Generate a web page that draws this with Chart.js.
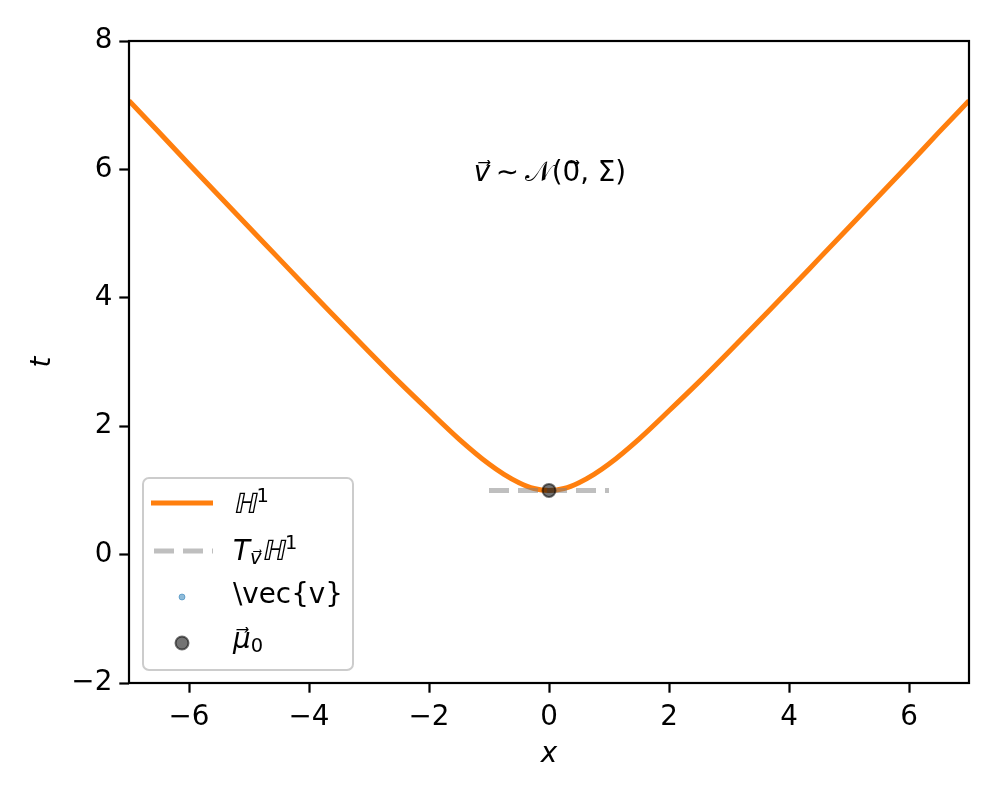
<!DOCTYPE html>
<html>
<head>
<meta charset="utf-8">
<script src="https://cdn.jsdelivr.net/npm/chart.js@4"></script>
<style>
  html, body { margin: 0; padding: 0; background: #fff; }
  #wrap { width: 1000px; height: 800px; }
</style>
</head>
<body>
<div id="wrap"><canvas id="c" width="1000" height="800"></canvas></div>
<script>
// ---- data ----
const curveX = [-7, -6.5, -6, -5.5, -5, -4.5, -4, -3.5, -3, -2.5, -2, -1.5, -1, -0.75, -0.5, -0.25, 0, 0.25, 0.5, 0.75, 1, 1.5, 2, 2.5, 3, 3.5, 4, 4.5, 5, 5.5, 6, 6.5, 7];
const curveT = [7.07, 6.58, 6.08, 5.59, 5.10, 4.61, 4.12, 3.64, 3.16, 2.69, 2.24, 1.80, 1.41, 1.25, 1.12, 1.03, 1.00, 1.03, 1.12, 1.25, 1.41, 1.80, 2.24, 2.69, 3.16, 3.64, 4.12, 4.61, 5.10, 5.59, 6.08, 6.58, 7.07];
const tangentX = [-1, 1];
const tangentT = [1, 1];
const vSamplesX = [];
const vSamplesT = [];
const mu0X = [0];
const mu0T = [1];
const xTicks = [-6, -4, -2, 0, 2, 4, 6];
const yTicks = [-2, 0, 2, 4, 6, 8];
const annotX = 0;
const annotT = 6;

const FS = 27.78;
const FAM = '"DejaVu Sans", sans-serif';
const ORANGE = '#ff7f0e';
const TAN_COL = 'rgba(128,128,128,0.5)';
const V_COL = 'rgba(31,119,180,0.5)';
const MU_COL = 'rgba(0,0,0,0.55)';

const zip = (xs, ys) => xs.map((x, i) => ({ x: x, y: ys[i] }));

function drawRich(ctx, segs, x, baseY, size, align) {
  const fontOf = s => (s.it ? 'italic ' : '') + ((s.sup || s.sub) ? size * 0.7 : size) + 'px ' + FAM;
  let total = 0;
  segs.forEach(s => { ctx.font = fontOf(s); total += ctx.measureText(s.t).width; });
  let cx = align === 'center' ? x - total / 2 : x;
  ctx.textAlign = 'left';
  ctx.textBaseline = 'alphabetic';
  segs.forEach(s => {
    ctx.font = fontOf(s);
    const dy = s.sup ? -size * 0.4 : (s.sub ? size * 0.15 : 0);
    if (s.skew) {
      ctx.save();
      ctx.translate(cx, baseY + dy);
      ctx.transform(1, 0, -0.2, 1, 0, 0);
      ctx.fillText(s.t, 0, 0);
      ctx.restore();
    } else {
      ctx.fillText(s.t, cx, baseY + dy);
    }
    cx += ctx.measureText(s.t).width;
  });
}

const legendLabels = [
  [{ t: 'ℍ', skew: true }, { t: '1', sup: true }],
  [{ t: 'T', it: true }, { t: 'v⃗', it: true, sub: true }, { t: 'ℍ', skew: true }, { t: '1', sup: true }],
  [{ t: '\\vec{v}' }],
  [{ t: 'μ⃗', it: true }, { t: '0', sub: true }]
];
const annotSegs = [{ t: 'v⃗', it: true }, { t: '\u2009∼\u2009' }, { t: '𝒩' }, { t: '(0⃗, Σ)' }];

const overlay = {
  id: 'overlay',
  afterDatasetsDraw(chart) {
    const { ctx, chartArea: a, scales } = chart;
    ctx.save();
    // annotation
    ctx.fillStyle = '#000';
    drawRich(ctx, annotSegs, scales.x.getPixelForValue(annotX) + 1, scales.y.getPixelForValue(annotT) + 12, FS, 'center');

    // legend box
    const bx = 143, by = 478, bw = 210, bh = 192, r = 6;
    ctx.beginPath();
    ctx.moveTo(bx + r, by);
    ctx.arcTo(bx + bw, by, bx + bw, by + bh, r);
    ctx.arcTo(bx + bw, by + bh, bx, by + bh, r);
    ctx.arcTo(bx, by + bh, bx, by, r);
    ctx.arcTo(bx, by, bx + bw, by, r);
    ctx.closePath();
    ctx.fillStyle = 'rgba(255,255,255,0.8)';
    ctx.fill();
    ctx.strokeStyle = '#cccccc';
    ctx.lineWidth = 2;
    ctx.stroke();

    const hy = [503, 551, 597, 643];
    const base = [513, 560, 603, 648];
    const ds = chart.data.datasets;
    ctx.lineCap = 'butt';
    ctx.strokeStyle = ds[0].borderColor; ctx.lineWidth = ds[0].borderWidth;
    ctx.setLineDash([]);
    ctx.beginPath(); ctx.moveTo(151, hy[0]); ctx.lineTo(213, hy[0]); ctx.stroke();
    ctx.strokeStyle = ds[1].borderColor; ctx.lineWidth = ds[1].borderWidth;
    ctx.setLineDash(ds[1].borderDash);
    ctx.beginPath(); ctx.moveTo(154, hy[1]); ctx.lineTo(213, hy[1]); ctx.stroke();
    ctx.setLineDash([]);
    ctx.fillStyle = ds[2].backgroundColor; ctx.strokeStyle = ds[2].borderColor; ctx.lineWidth = 1;
    ctx.beginPath(); ctx.arc(182, hy[2], 3, 0, Math.PI * 2); ctx.fill(); ctx.stroke();
    ctx.fillStyle = ds[3].backgroundColor; ctx.strokeStyle = ds[3].borderColor; ctx.lineWidth = ds[3].borderWidth;
    ctx.beginPath(); ctx.arc(182, hy[3], 6.5, 0, Math.PI * 2); ctx.fill(); ctx.stroke();

    ctx.fillStyle = '#000';
    legendLabels.forEach((segs, i) => drawRich(ctx, segs, 233, base[i], FS, 'left'));
    ctx.restore();
  },
  afterDraw(chart) {
    const { ctx, chartArea: a } = chart;
    ctx.save();
    ctx.strokeStyle = '#000';
    ctx.lineWidth = 2.2;
    ctx.strokeRect(a.left, a.top, a.right - a.left, a.bottom - a.top);
    ctx.restore();
  }
};

const tickGrid = { drawOnChartArea: false, drawTicks: true, tickLength: 9.7, tickWidth: 2.2, tickColor: '#000', color: '#000' };

new Chart(document.getElementById('c'), {
  type: 'scatter',
  data: {
    datasets: [
      { label: 'H1', data: zip(curveX, curveT), showLine: true, borderColor: ORANGE, borderWidth: 5, pointRadius: 0, cubicInterpolationMode: 'monotone', order: 3, fill: false },
      { label: 'T H1', data: zip(tangentX, tangentT), showLine: true, borderColor: TAN_COL, borderWidth: 5, borderDash: [20, 9], pointRadius: 0, order: 2, fill: false },
      { label: 'v', data: zip(vSamplesX, vSamplesT), showLine: false, backgroundColor: V_COL, borderColor: V_COL, pointRadius: 3, order: 1 },
      { label: 'mu0', data: zip(mu0X, mu0T), showLine: false, backgroundColor: MU_COL, borderColor: MU_COL, borderWidth: 2, pointRadius: 6.5, order: 0 }
    ]
  },
  options: {
    responsive: false,
    animation: false,
    layout: { padding: { top: 41, right: 31, left: 0, bottom: 0 } },
    plugins: { legend: { display: false }, tooltip: { enabled: false } },
    scales: {
      x: {
        type: 'linear', min: -7, max: 7,
        afterBuildTicks: s => { s.ticks = xTicks.map(v => ({ value: v })); },
        ticks: { color: '#000', font: { family: FAM, size: FS }, padding: 8, maxRotation: 0,
                 callback: v => (v < 0 ? '\u2212' + Math.abs(v) : String(v)) },
        grid: tickGrid,
        border: { display: false },
        title: { display: true, text: 'x', color: '#000', font: { family: FAM, size: FS, style: 'italic' }, padding: { top: 0, bottom: 28.6 } },
        afterFit: s => { s.height = 117; }
      },
      y: {
        type: 'linear', min: -2, max: 8,
        afterBuildTicks: s => { s.ticks = yTicks.map(v => ({ value: v })); },
        ticks: { color: '#000', font: { family: FAM, size: FS }, padding: 7,
                 callback: v => (v < 0 ? '\u2212' + Math.abs(v) : String(v)) },
        grid: tickGrid,
        border: { display: false },
        title: { display: true, text: 't', color: '#000', font: { family: FAM, size: FS, style: 'italic' }, padding: { top: 26, bottom: 0 } },
        afterFit: s => { s.width = 129; }
      }
    }
  },
  plugins: [overlay]
});
</script>
</body>
</html>
